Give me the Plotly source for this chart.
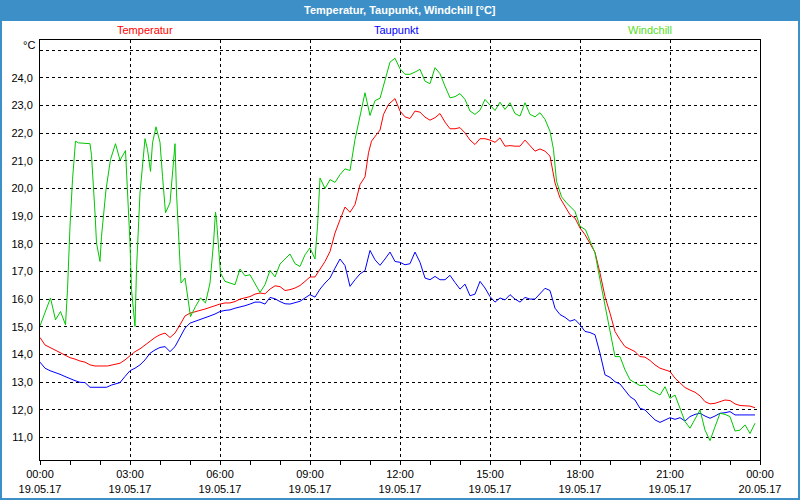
import plotly.graph_objects as go
from datetime import datetime, timedelta

# ---- data (minutes after 19.05.17 00:00, values in °C) ----
temp_min = [0, 10, 20, 30, 40, 50, 60, 70, 80, 90, 100, 110, 135, 150, 160, 170, 180, 190, 200, 210,
            220, 230, 240, 250, 260, 270, 280, 290, 300, 310, 320, 330, 340, 350, 360, 370, 380, 390,
            400, 410, 420, 430, 440, 450, 460, 470, 480, 490, 500, 510, 520, 530, 540, 550, 560, 570,
            580, 590, 600, 610, 620, 630, 640, 650, 657, 663, 673, 680, 687, 697, 710, 720, 730, 740,
            750, 760, 770, 780, 790, 800, 810, 820, 830, 840, 850, 860, 870, 880, 890, 900, 910, 920,
            930, 940, 950, 960, 970, 980, 990, 1000, 1010, 1020, 1030, 1040, 1050, 1060, 1070, 1080,
            1090, 1100, 1110, 1120, 1130, 1140, 1150, 1160, 1170, 1180, 1190, 1200, 1210, 1220, 1230,
            1240, 1250, 1260, 1270, 1280, 1290, 1300, 1310, 1320, 1330, 1340, 1350, 1360, 1370, 1380,
            1390, 1400, 1410, 1420, 1430]
temp_val = [14.61, 14.34, 14.25, 14.16, 14.07, 13.96, 13.88, 13.83, 13.76, 13.72, 13.62, 13.58, 13.58,
            13.64, 13.68, 13.80, 13.96, 14.10, 14.20, 14.34, 14.50, 14.61, 14.71, 14.77, 14.61, 14.77,
            15.07, 15.39, 15.49, 15.55, 15.59, 15.64, 15.71, 15.76, 15.82, 15.86, 15.86, 15.91, 16.00,
            16.04, 16.09, 16.18, 16.22, 16.19, 16.36, 16.48, 16.45, 16.31, 16.34, 16.40, 16.49, 16.64,
            16.80, 16.80, 17.06, 17.36, 17.72, 18.39, 18.87, 19.33, 19.14, 19.42, 20.14, 20.42, 21.29,
            21.71, 21.95, 22.11, 22.68, 23.04, 23.25, 22.80, 22.59, 22.53, 22.80, 22.76, 22.58, 22.47,
            22.56, 22.71, 22.40, 22.16, 22.16, 22.20, 22.01, 21.75, 21.59, 21.80, 21.80, 21.75, 21.67,
            21.83, 21.53, 21.55, 21.53, 21.53, 21.75, 21.55, 21.35, 21.43, 21.35, 21.17, 20.20, 19.66,
            19.36, 19.05, 18.93, 18.57, 18.33, 18.03, 17.69, 16.94, 16.09, 15.49, 14.83, 14.53, 14.28,
            14.19, 14.10, 13.92, 13.90, 13.78, 13.62, 13.50, 13.44, 13.38, 13.14, 12.98, 12.80, 12.71,
            12.63, 12.50, 12.29, 12.21, 12.23, 12.29, 12.35, 12.33, 12.21, 12.15, 12.13, 12.13, 12.07]

dew_min = [0, 10, 20, 30, 40, 50, 60, 70, 80, 90, 100, 133, 143, 160, 170, 180, 190, 200, 210, 220,
           230, 240, 250, 260, 270, 280, 290, 300, 310, 320, 330, 340, 350, 360, 370, 380, 390, 400,
           410, 420, 430, 440, 450, 460, 470, 480, 490, 500, 510, 520, 530, 540, 550, 560, 570, 580,
           590, 600, 610, 620, 630, 640, 650, 660, 670, 680, 690, 700, 710, 720, 730, 740, 750, 760,
           770, 780, 790, 800, 810, 820, 830, 840, 850, 860, 870, 880, 890, 900, 910, 920, 930, 940,
           950, 960, 970, 980, 990, 1000, 1010, 1020, 1030, 1040, 1050, 1060, 1070, 1080, 1090, 1100,
           1110, 1120, 1130, 1140, 1150, 1160, 1170, 1180, 1190, 1200, 1210, 1220, 1230, 1240, 1250,
           1260, 1270, 1280, 1290, 1300, 1310, 1320, 1330, 1340, 1350, 1360, 1370, 1380, 1390, 1400,
           1410, 1420, 1430]
dew_val = [13.72, 13.50, 13.41, 13.35, 13.28, 13.20, 13.11, 13.05, 12.99, 12.98, 12.81, 12.81, 12.89,
           12.98, 13.20, 13.41, 13.50, 13.62, 13.80, 14.04, 14.16, 14.25, 14.28, 14.10, 14.28, 14.64,
           14.95, 15.13, 15.19, 15.25, 15.31, 15.39, 15.46, 15.55, 15.59, 15.61, 15.67, 15.71, 15.76,
           15.82, 15.89, 15.89, 15.82, 16.06, 16.01, 15.91, 15.83, 15.82, 15.87, 15.92, 16.04, 16.16,
           16.07, 16.36, 16.58, 16.76, 17.12, 17.45, 17.21, 16.46, 16.70, 16.91, 17.03, 17.76, 17.42,
           17.22, 17.45, 17.70, 17.36, 17.33, 17.24, 17.28, 17.70, 17.33, 16.76, 16.70, 16.82, 16.70,
           16.70, 16.86, 16.60, 16.36, 16.54, 16.12, 16.18, 16.64, 16.40, 16.09, 15.89, 16.04, 15.97,
           16.16, 16.00, 15.89, 16.06, 16.00, 16.00, 16.20, 16.39, 16.31, 15.67, 15.44, 15.34, 15.20,
           15.26, 15.07, 14.83, 14.79, 14.71, 14.04, 13.26, 13.17, 13.01, 12.93, 12.71, 12.47, 12.35,
           12.05, 11.99, 11.81, 11.63, 11.54, 11.63, 11.71, 11.65, 11.71, 11.59, 11.75, 11.83, 11.87,
           11.77, 11.69, 11.77, 11.87, 11.89, 11.93, 11.81, 11.81, 11.81, 11.81, 11.81]

wind_min = [0, 12, 21, 31, 41, 51, 55, 60, 65, 71, 77, 100, 103, 110, 113, 120, 123, 132, 141, 151,
            160, 171, 175, 180, 183, 190, 193, 200, 210, 215, 221, 225, 232, 240, 245, 251, 260, 265,
            270, 273, 278, 282, 290, 297, 301, 311, 321, 331, 340, 347, 351, 353, 361, 370, 377, 390,
            400, 410, 420, 440, 450, 460, 470, 480, 500, 510, 520, 530, 540, 550, 555, 560, 570, 580,
            590, 600, 610, 620, 630, 640, 650, 660, 670, 680, 690, 700, 710, 720, 730, 740, 750, 760,
            770, 780, 790, 800, 810, 820, 830, 840, 850, 860, 870, 880, 890, 900, 910, 920, 930, 940,
            950, 960, 970, 980, 990, 1000, 1010, 1020, 1027, 1033, 1043, 1053, 1064, 1070, 1080, 1091,
            1100, 1110, 1120, 1130, 1140, 1150, 1160, 1170, 1180, 1190, 1200, 1210, 1220, 1230, 1240,
            1250, 1260, 1270, 1280, 1290, 1300, 1310, 1320, 1330, 1340, 1350, 1360, 1370, 1380, 1390,
            1400, 1410, 1420, 1430]
wind_val = [15.03, 15.61, 16.04, 15.25, 15.55, 15.07, 16.34, 18.63, 20.32, 21.71, 21.65, 21.62, 21.20,
            19.12, 18.03, 17.36, 18.27, 19.96, 21.05, 21.62, 21.02, 21.37, 19.96, 18.03, 16.34, 15.01,
            17.06, 19.84, 21.80, 21.41, 20.62, 21.65, 22.23, 21.67, 20.44, 19.12, 19.48, 20.68, 21.62,
            19.84, 18.03, 16.58, 16.76, 15.86, 15.37, 15.73, 16.04, 15.86, 16.58, 18.03, 19.14, 18.87,
            16.94, 16.64, 16.60, 16.52, 17.09, 16.84, 16.88, 16.24, 16.52, 17.04, 16.80, 17.27, 17.63,
            17.28, 17.18, 17.60, 17.85, 17.45, 18.63, 20.38, 20.00, 20.32, 20.22, 20.50, 20.71, 20.65,
            21.77, 22.62, 23.46, 22.64, 23.18, 23.26, 23.95, 24.57, 24.71, 24.33, 24.13, 24.13, 24.21,
            24.31, 23.88, 23.79, 24.37, 24.15, 23.70, 23.28, 23.32, 23.43, 23.22, 22.80, 22.68, 22.83,
            23.22, 23.01, 22.82, 23.12, 22.86, 23.10, 22.71, 22.62, 23.10, 22.68, 22.59, 22.74, 22.50,
            22.07, 21.41, 20.26, 19.70, 19.48, 19.30, 19.17, 18.63, 18.51, 18.10, 17.67, 16.70, 15.73,
            14.83, 13.92, 13.92, 13.44, 13.08, 12.96, 12.87, 12.89, 12.71, 12.63, 12.53, 12.83, 12.41,
            12.53, 12.05, 11.57, 11.33, 11.65, 11.99, 11.26, 10.88, 11.38, 11.87, 11.83, 11.75, 11.23,
            11.26, 11.45, 11.14, 11.51]

series_names = ["Temperatur", "Taupunkt", "Windchill"]
x_tick_times = ["00:00", "03:00", "06:00", "09:00", "12:00", "15:00", "18:00", "21:00", "00:00"]
x_tick_dates = ["19.05.17"] * 8 + ["20.05.17"]
y_tick_vals = [11, 12, 13, 14, 15, 16, 17, 18, 19, 20, 21, 22, 23, 24, 25]
y_tick_text = ["11,0", "12,0", "13,0", "14,0", "15,0", "16,0", "17,0", "18,0", "19,0", "20,0",
               "21,0", "22,0", "23,0", "24,0", ""]

start = datetime(2017, 5, 19)


def to_dt(mins):
    return [start + timedelta(minutes=m) for m in mins]


FONT = "Liberation Sans"
FRAME = "#3d8fc7"

fig = go.Figure()
fig.add_trace(go.Scatter(x=to_dt(temp_min), y=temp_val, mode="lines", name=series_names[0],
                         line=dict(color="#ff0000", width=1), hoverinfo="skip"))
fig.add_trace(go.Scatter(x=to_dt(dew_min), y=dew_val, mode="lines", name=series_names[1],
                         line=dict(color="#0000ff", width=1), hoverinfo="skip"))
fig.add_trace(go.Scatter(x=to_dt(wind_min), y=wind_val, mode="lines", name=series_names[2],
                         line=dict(color="#00c800", width=1), hoverinfo="skip"))

x_tick_vals = [start + timedelta(hours=3 * i) for i in range(9)]
x_tick_text = [f"{t}<br>{d}" for t, d in zip(x_tick_times, x_tick_dates)]

fig.update_layout(
    width=800, height=500,
    margin=dict(l=40, r=40, t=40, b=40),
    paper_bgcolor="#ffffff", plot_bgcolor="#ffffff",
    showlegend=False,
    font=dict(family=FONT, size=11, color="#000000"),
    xaxis=dict(
        range=[start, start + timedelta(hours=24)],
        tickmode="array", tickvals=x_tick_vals, ticktext=x_tick_text,
        ticks="outside", ticklen=4, tickcolor="#000000", tickwidth=1,
        minor=dict(dtick=3600000, ticks="outside", ticklen=4, tickcolor="#000000", showgrid=False),
        showgrid=True, gridcolor="#000000", gridwidth=1, griddash="3px,3px",
        showline=True, linecolor="#000000", linewidth=1, mirror=True,
        zeroline=False, automargin=False,
        tickfont=dict(family=FONT, size=11, color="#000000"),
    ),
    yaxis=dict(
        range=[10.18, 25.37],
        tickmode="array", tickvals=y_tick_vals, ticktext=y_tick_text,
        ticks="", ticklabelstandoff=4,
        showgrid=True, gridcolor="#000000", gridwidth=1, griddash="3px,3px",
        showline=True, linecolor="#000000", linewidth=1, mirror=True,
        zeroline=False, automargin=False,
        tickfont=dict(family=FONT, size=11, color="#000000"),
    ),
    shapes=[
        dict(type="rect", xref="paper", yref="paper", x0=-0.0556, x1=1.0556, y0=1.0452, y1=1.0952,
             fillcolor=FRAME, line=dict(width=0), layer="below"),
        dict(type="rect", xref="paper", yref="paper", x0=-0.05417, x1=1.05417, y0=-0.09286, y1=1.09286,
             line=dict(color=FRAME, width=2), layer="below"),
    ],
    annotations=[
        dict(text="<b>Temperatur, Taupunkt, Windchill [°C]</b>", xref="paper", yref="paper",
             x=0.5, y=1.0714, xanchor="center", yanchor="middle", showarrow=False,
             font=dict(family=FONT, size=11, color="#ffffff")),
        dict(text=series_names[0], xref="paper", yref="paper", x=0.1458, y=1.0238,
             xanchor="center", yanchor="middle", showarrow=False,
             font=dict(family=FONT, size=11, color="#ff0000")),
        dict(text=series_names[1], xref="paper", yref="paper", x=0.4958, y=1.0238,
             xanchor="center", yanchor="middle", showarrow=False,
             font=dict(family=FONT, size=11, color="#0000ff")),
        dict(text=series_names[2], xref="paper", yref="paper", x=0.8472, y=1.0238,
             xanchor="center", yanchor="middle", showarrow=False,
             font=dict(family=FONT, size=11, color="#55dd22")),
        dict(text="°C", xref="paper", yref="paper", x=-0.0042, y=0.988,
             xanchor="right", yanchor="middle", showarrow=False,
             font=dict(family=FONT, size=11, color="#000000")),
    ],
)

fig.write_html("out.html", config={"displayModeBar": False},
               post_script="document.body.style.margin='0';")
